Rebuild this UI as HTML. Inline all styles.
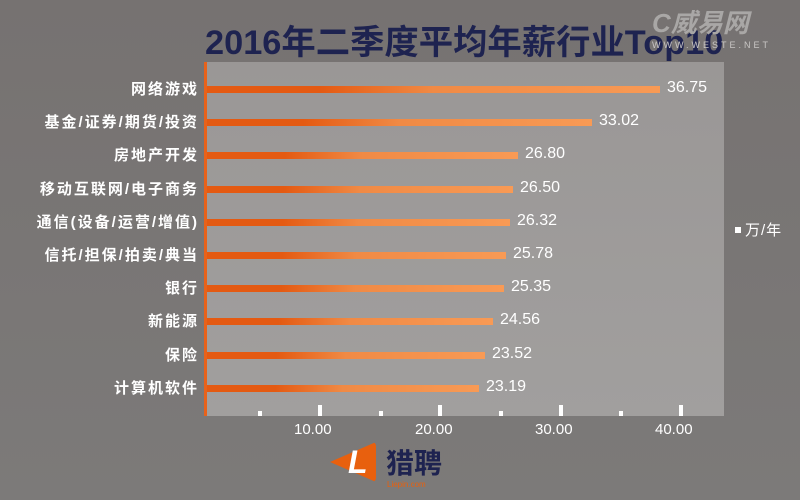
<!DOCTYPE html><html><head><meta charset="utf-8"><style>
body{margin:0;width:800px;height:500px;overflow:hidden;background:linear-gradient(#767271,#7c7a79);font-family:"Liberation Sans","Noto Sans CJK SC",sans-serif;position:relative}
.a{position:absolute}
.t{left:205px;top:15px;font-size:34px;font-weight:bold;color:#1e2350;white-space:nowrap;transform-origin:0 0;transform:scaleX(1.01)}
.plot{left:206px;top:62px;width:518px;height:354px;background:linear-gradient(#9a9796,#a19f9e)}
.ax{left:204px;top:62px;width:3px;height:354px;background:#e8621a}
.bar{height:7px;left:207px;background:linear-gradient(90deg,#e45a12 0%,#e45a12 25%,#f08a45 50%,#f89a55 100%)}
.lab{color:#fff;font-size:15px;font-weight:bold;letter-spacing:2px;right:601px;text-align:right;white-space:nowrap}
.v{color:#fff;font-size:16px}
.tk{background:#fff;width:4px;bottom:84px}
.xl{color:#fff;font-size:15px;top:421px}
</style></head><body>
<div class="a t">2016年二季度平均年薪行业Top10</div>
<div class="a" style="left:652px;top:3px;font-size:26px;font-weight:bold;font-style:italic;color:#a9a7a6">C威易网</div>
<div class="a" style="left:652px;top:40px;font-size:9px;color:#c8c6c5;letter-spacing:3px">WWW.WESTE.NET</div>
<div class="a plot"></div>
<div class="a ax"></div>
<div id="c"></div>
<div class="a" style="left:735px;top:227px;width:6px;height:6px;background:#fff"></div>
<div class="a" style="left:745px;top:219px;color:#fff;font-size:15px;letter-spacing:1px">万/年</div>
<div class="a" style="left:330px;top:442px;width:0;height:0;border-top:20px solid transparent;border-bottom:20px solid transparent;border-right:46px solid #e8600e;border-radius:4px"></div>
<div class="a" style="left:348px;top:444px;color:#fff;font-size:32px;font-weight:bold;font-style:italic">L</div>
<div class="a" style="left:386px;top:442px;color:#1e2350;font-size:28px;font-weight:bold">猎聘</div>
<div class="a" style="left:387px;top:480px;color:#e8600e;font-size:8px">Liepin.com</div>
<script>
var d=[["网络游戏","36.75",660],["基金/证券/期货/投资","33.02",592],["房地产开发","26.80",518],["移动互联网/电子商务","26.50",513],["通信(设备/运营/增值)","26.32",510],["信托/担保/拍卖/典当","25.78",506],["银行","25.35",504],["新能源","24.56",493],["保险","23.52",485],["计算机软件","23.19",479]];
var h="";d.forEach(function(r,i){var y=89+i*33.2;
h+='<div class="a lab" style="top:'+(y-11)+'px">'+r[0]+'</div><div class="a bar" style="top:'+(y-3)+'px;width:'+(r[2]-207)+'px"></div><div class="a v" style="left:'+(r[2]+7)+'px;top:'+(y-10)+'px">'+r[1]+'</div>';});
[260,320,381,440,501,561,621,681].forEach(function(x,i){var t=i%2?11:5;h+='<div class="a tk" style="left:'+(x-2)+'px;height:'+t+'px"></div>';});
[["10.00",316],["20.00",437],["30.00",557],["40.00",677]].forEach(function(l){h+='<div class="a xl" style="left:'+(l[1]-22)+'px">'+l[0]+'</div>';});
document.getElementById("c").innerHTML=h;
</script></body></html>
